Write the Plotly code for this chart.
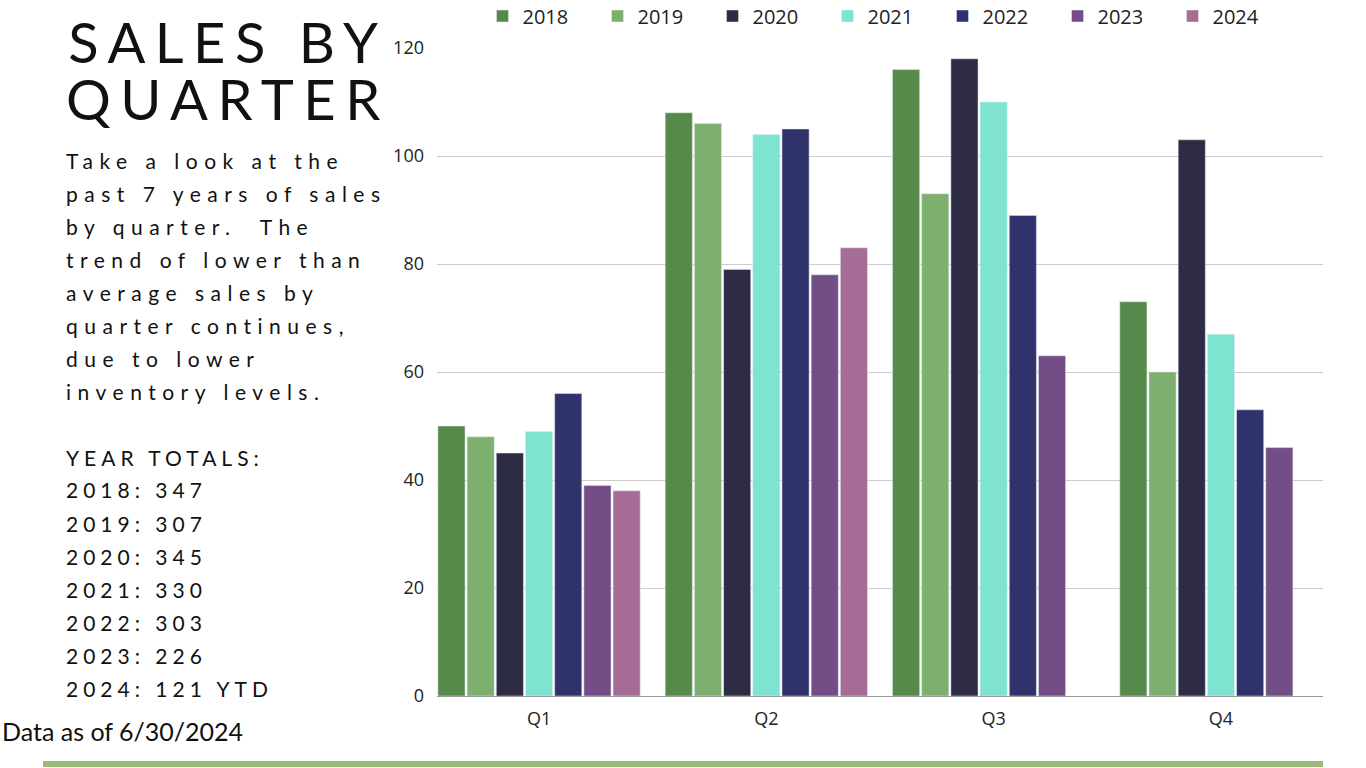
import plotly.graph_objects as go

quarters = ["Q1", "Q2", "Q3", "Q4"]
years = ["2018", "2019", "2020", "2021", "2022", "2023", "2024"]
sales_2018 = [50, 108, 116, 73]
sales_2019 = [48, 106, 93, 60]
sales_2020 = [45, 79, 118, 103]
sales_2021 = [49, 104, 110, 67]
sales_2022 = [56, 105, 89, 53]
sales_2023 = [39, 78, 63, 46]
sales_2024 = [38, 83, None, None]
series = [sales_2018, sales_2019, sales_2020, sales_2021, sales_2022, sales_2023, sales_2024]
colors = ["#558A4B", "#7DB06E", "#2D2C44", "#7FE3D2", "#30336B", "#724D86", "#A56D96"]

title_lines = ["SALES BY", "QUARTER"]
body_lines = ["Take a look at the", "past 7 years of sales", "by quarter.  The",
              "trend of lower than", "average sales by", "quarter continues,",
              "due to lower", "inventory levels."]
total_lines = ["YEAR TOTALS:", "2018: 347", "2019: 307", "2020: 345", "2021: 330",
               "2022: 303", "2023: 226", "2024: 121 YTD"]
note = "Data as of 6/30/2024"

W, H = 1366, 768
L, R, T, B = 437, 43, 48, 72
PW, PH = W - L - R, H - T - B

def px(x):
    return (x - L) / PW

def py(y):
    return (H - B - y) / PH

fig = go.Figure()
for name, vals, c in zip(years, series, colors):
    fig.add_trace(go.Bar(x=quarters, y=vals, name=name, marker_color=c))

TXT = "Lato"
ann = []
title_html = "<br>".join(
    f'<span style="font-size:56px;letter-spacing:9.5px">{t}</span>' for t in title_lines)
ann.append(dict(x=px(64), y=py(70), xref="paper", yref="paper",
                xanchor="left", yanchor="middle", showarrow=False, text=title_html,
                font=dict(family=TXT, size=44, color="#111111")))
for i, t in enumerate(body_lines):
    ann.append(dict(x=px(64), y=py(160 + i * 33), xref="paper", yref="paper",
                    xanchor="left", yanchor="middle", showarrow=False,
                    text=f'<span style="letter-spacing:6.5px">{t}</span>',
                    font=dict(family=TXT, size=21, color="#111111")))
for i, t in enumerate(total_lines):
    ann.append(dict(x=px(64), y=py(457 + i * 33), xref="paper", yref="paper",
                    xanchor="left", yanchor="middle", showarrow=False,
                    text=f'<span style="letter-spacing:5px">{t}</span>',
                    font=dict(family=TXT, size=21, color="#111111")))
ann.append(dict(x=px(0), y=py(731), xref="paper", yref="paper",
                xanchor="left", yanchor="middle", showarrow=False, text=note,
                font=dict(family=TXT, size=25, color="#111111")))

fig.update_layout(
    width=W, height=H,
    margin=dict(l=L, r=R, t=T, b=B, autoexpand=False),
    paper_bgcolor="white", plot_bgcolor="white",
    barmode="group", bargap=0.101, bargroupgap=0.07,
    font=dict(family="Open Sans", size=18, color="#222222"),
    legend=dict(orientation="h", x=px(885), xanchor="center", y=py(16), yanchor="middle",
                font=dict(family="Open Sans", size=20, color="#222222"),
                entrywidth=70, entrywidthmode="pixels", bgcolor="rgba(0,0,0,0)"),
    annotations=ann,
    shapes=[dict(type="rect", xref="paper", yref="paper", x0=px(43), x1=px(1323),
                 y0=py(767), y1=py(761), fillcolor="#9CBB7A", line=dict(width=0), layer="above")],
)
fig.update_xaxes(range=[-0.449, 3.449], showline=True, linecolor="#999999", linewidth=1,
                 showgrid=False, ticks="", ticklabelstandoff=6,
                 tickfont=dict(family="Open Sans", size=18, color="#222222"))
fig.update_yaxes(range=[0, 120], dtick=20, showgrid=True, gridcolor="#CCCCCC", gridwidth=1,
                 zeroline=False, ticks="", ticklabelstandoff=12,
                 tickfont=dict(family="Open Sans", size=18, color="#222222"))

fig.write_html("out.html", config={"displayModeBar": False},
               post_script="document.body.style.margin='0';")
